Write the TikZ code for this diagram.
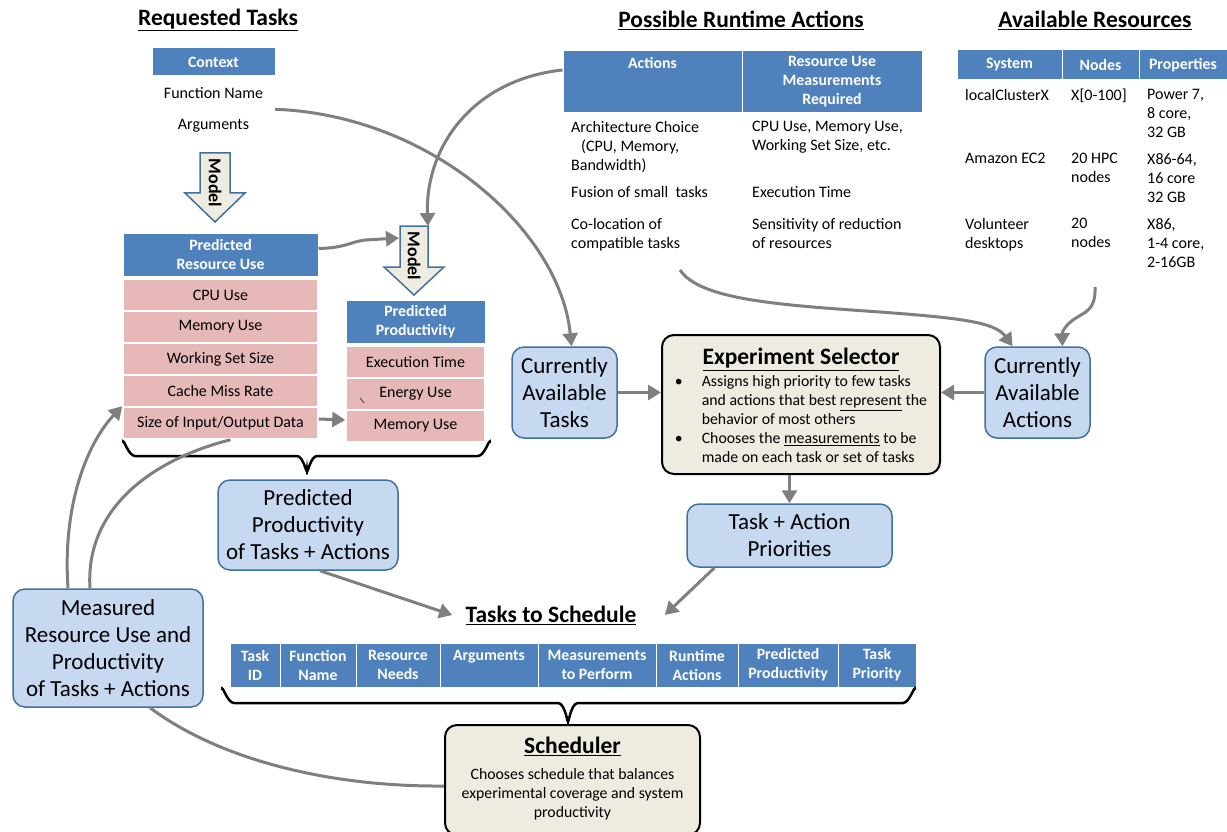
\documentclass[tikz,border=0pt]{standalone}
\usepackage{fontspec}
\setmainfont{Carlito}
\usetikzlibrary{arrows.meta}
\definecolor{hdrblue}{HTML}{4F81BD}
\definecolor{cellpink}{HTML}{E6B9B8}
\definecolor{boxblue}{HTML}{C6D9F1}
\definecolor{boxline}{HTML}{41719C}
\definecolor{beige}{HTML}{EEECE1}
\definecolor{flowgray}{HTML}{7F7F7F}
\tikzset{
    hdr/.style={fill=hdrblue, draw=white, line width=1pt, text=white, font=\bfseries\fontsize{15.8}{19}\selectfont, align=center, inner sep=0pt},
    pinkrow/.style={fill=cellpink, draw=white, line width=1.5pt, font=\fontsize{16}{19}\selectfont, minimum height=32, inner sep=0pt},
    cell/.style={font=\fontsize{16}{19}\selectfont, minimum width=123, minimum height=33, inner sep=0pt},
    body/.style={font=\fontsize{16}{19}\selectfont, align=left, anchor=north west, inner sep=0pt},
    bluebox/.style={fill=boxblue, draw=boxline, line width=1.5pt, rounded corners=12pt, align=center, font=\fontsize{23}{27}\selectfont, inner sep=0pt},
    beigebox/.style={fill=beige, draw=black, line width=2pt, rounded corners=12pt, inner sep=0pt, font=\fontsize{15.8}{19}\selectfont},
    heading/.style={font=\bfseries\fontsize{23.5}{27}\selectfont},
    modelshape/.style={fill=beige, draw=boxline, line width=1.5pt},
    modeltext/.style={rotate=-90, font=\bfseries\fontsize{18}{18}\selectfont, inner sep=0pt},
    flow/.style={draw=flowgray, line width=3pt, -{Triangle[length=13pt,width=15pt]}},
    flowline/.style={draw=flowgray, line width=3pt},
    bracket/.style={draw=black, line width=2.5pt}
}
\begin{document}
\begin{tikzpicture}[x=1pt, y=-1pt]
\useasboundingbox (0,0) rectangle (1227,832);

\node[heading] (reqtitle) at (218,20) {\underline{Requested Tasks}};
\node[heading] (acttitle) at (741,20) {\underline{Possible Runtime Actions}};
\node[heading] (restitle) at (1095,20) {\underline{Available Resources}};

\node[hdr, minimum width=123, minimum height=28] (context) at (213.5,62) {Context};
\node[cell] (fname) at (213.5,93) {Function Name};
\node[cell] (args) at (213.5,126) {Arguments};

\draw[modelshape] (200,153) -- (230,153) -- (230,193) -- (245,193) -- (215,222) -- (185,193) -- (200,193) -- cycle;
\node[modeltext] (model1) at (215,183) {Model};

\node[hdr, minimum width=195, minimum height=43] (predres) at (220.5,254.5) {Predicted\\Resource Use};
\foreach \t [count=\i] in {CPU Use, Memory Use, Working Set Size, Cache Miss Rate, Size of Input/Output Data}
{
    \node[pinkrow, minimum width=195] (res\i) at (220.5,263+32*\i) {\t};
}

\draw[modelshape] (400,226) -- (428,226) -- (428,267) -- (444,267) -- (414,295) -- (384,267) -- (400,267) -- cycle;
\node[modeltext] (model2) at (414,256) {Model};
\coordinate (m2top) at (428,226);
\coordinate (m2left) at (399,238);

\node[hdr, minimum width=139, minimum height=43] (predprod) at (415.5,321.5) {Predicted\\Productivity};
\foreach \t [count=\i] in {Execution Time, Energy Use, Memory Use}
{
    \node[pinkrow, minimum width=139] (prod\i) at (415.5,330+32*\i) {\t};
}
\draw[black!70, line width=1pt] (360,398) -- (364,403);

\draw[bracket] (123,443) to[out=90,in=180] (135,456) -- (297,456) to[out=0,in=270] (307,470)
    to[out=270,in=180] (317,456) -- (478,456) to[out=0,in=90] (490,443);

\node[hdr, minimum width=179, minimum height=62] (acthdr) at (652.5,82) {Actions\\\mbox{}\\\mbox{}};
\node[hdr, minimum width=180, minimum height=62] (meashdr) at (832,82) {Resource Use\\Measurements\\Required};
\node[body] (arch) at (571,121) {Architecture Choice\\\hspace*{10pt}(CPU, Memory,\\Bandwidth)};
\node[body] (archmeas) at (752,121) {CPU Use, Memory Use,\\Working Set Size, etc.};
\node[body] (fusion) at (571,186) {Fusion of small~ tasks};
\node[body] (fusionmeas) at (752,186) {Execution Time};
\node[body] (coloc) at (571,218) {Co-location of\\compatible tasks};
\node[body] (colocmeas) at (752,218) {Sensitivity of reduction\\of resources};
\coordinate (actbot) at (680,270);

\node[hdr, minimum width=105, minimum height=30] (syshdr) at (1009.5,65) {System};
\node[hdr, minimum width=77, minimum height=30] (nodeshdr) at (1100.5,65) {Nodes};
\node[hdr, minimum width=88, minimum height=30] (prophdr) at (1183,65) {Properties};
\node[body] (sys1) at (965,89) {localClusterX};
\node[body] (nodes1) at (1071,89) {X[0-100]};
\node[body] (prop1) at (1147,89) {Power 7,\\8 core,\\32 GB};
\node[body] (sys2) at (965,153) {Amazon EC2};
\node[body] (nodes2) at (1071,153) {20 HPC\\nodes};
\node[body] (prop2) at (1147,153) {X86-64,\\16 core\\32 GB};
\node[body] (sys3) at (965,218) {Volunteer\\desktops};
\node[body] (nodes3) at (1071,218) {20\\nodes};
\node[body] (prop3) at (1147,218) {X86,\\1-4 core,\\2-16GB};
\coordinate (resbot) at (1095,287);

\node[bluebox, minimum width=105, minimum height=91] (curtasks) at (564.5,392.5) {Currently\\Available\\Tasks};
\node[bluebox, minimum width=105, minimum height=91] (curacts) at (1037.5,392.5) {Currently\\Available\\Actions};
\node[beigebox, minimum width=278, minimum height=139] (expsel) at (801,404.5) {%
    \begin{tabular}{@{}l@{\hspace{19pt}}l@{}}
    \noalign{\vskip 8pt}
    \multicolumn{2}{c}{\bfseries\fontsize{23.5}{27}\selectfont\underline{Experiment Selector}}\\[3pt]
    \textbullet & Assigns high priority to few tasks\\
     & and actions that best \underline{represent} the\\
     & behavior of most others\\
    \textbullet & Chooses the \underline{measurements} to be\\
     & made on each task or set of tasks
    \end{tabular}};
\node[bluebox, minimum width=205, minimum height=63] (priorities) at (789.5,535.5) {Task + Action\\Priorities};
\node[bluebox, minimum width=180, minimum height=90] (predbox) at (308,525) {Predicted\\Productivity\\of Tasks + Actions};
\node[bluebox, minimum width=190, minimum height=118] (measured) at (108,648) {Measured\\Resource Use and\\Productivity\\of Tasks + Actions};

\node[heading] (schedtitle) at (551,615) {\underline{Tasks to Schedule}};
\foreach \l/\r/\t [count=\i] in {230/280/{Task\\ID}, 280/356/{Function\\Name}, 356/440/{Resource\\Needs}, 440/538/{Arguments\\\mbox{}}, 538/656/{Measurements\\to Perform}, 656/738/{Runtime\\Actions}, 738/838/{Predicted\\Productivity}, 838/916/{Task\\Priority}}
{
    \node[hdr, minimum width=\r-\l, minimum height=44] (col\i) at ({(\l+\r)/2},665) {\t};
}
\draw[bracket] (222,690) to[out=90,in=180] (234,703) -- (558,703) to[out=0,in=270] (568,720)
    to[out=270,in=180] (578,703) -- (903,703) to[out=0,in=90] (915,690);

\node[beigebox, minimum width=255, minimum height=110, anchor=north] (scheduler) at (572.5,724) {%
    \begin{tabular}{@{}c@{}}
    {\bfseries\fontsize{23.5}{27}\selectfont\underline{Scheduler}}\\[7pt]
    Chooses schedule that balances\\
    experimental coverage and system\\
    productivity
    \end{tabular}};

\draw[flow] (args.north east) .. controls (430,115) and (560,230) .. ([xshift=7pt]curtasks.north);
\draw[flow] ([yshift=12pt]acthdr.west) .. controls (470,80) and (425,150) .. (m2top);
\draw[flow] ([yshift=6pt]predres.east) .. controls (345,248) and (350,242) .. (365,240) -- (m2left);
\draw[flow] ([yshift=4pt]res5.east) -- ([yshift=6pt]prod3.west);
\draw[flow] ([xshift=-40pt]measured.north) .. controls (62,500) and (90,440) .. (res5.north west);
\draw[flowline] ([xshift=-18pt]measured.north) .. controls (85,510) and (150,460) .. ([xshift=10pt]res5.south);
\draw[flowline] ([xshift=42pt]measured.south) .. controls (220,760) and (330,787) .. ([yshift=-6pt]scheduler.west);
\draw[flow] ([xshift=12pt]predbox.south) -- ([xshift=-10pt]schedtitle.west);
\draw[flow] ([xshift=-75pt]priorities.south) -- ([xshift=25pt]schedtitle.east);
\draw[flow] (expsel.south -| priorities.north) -- (priorities.north);
\draw[flow] (curtasks.east) -- (curtasks.east -| expsel.west);
\draw[flow] (curacts.west) -- (curacts.west -| expsel.east);
\draw[flow] (actbot) .. controls (700,300) and (780,305) .. (880,312) .. controls (960,318) and (995,322) .. ([xshift=-25pt]curacts.north);
\draw[flow] (resbot) .. controls (1096,310) and (1085,312) .. (1076,318) .. controls (1066,324) and (1062,332) .. ([xshift=25pt]curacts.north);

\end{tikzpicture}
\end{document}
